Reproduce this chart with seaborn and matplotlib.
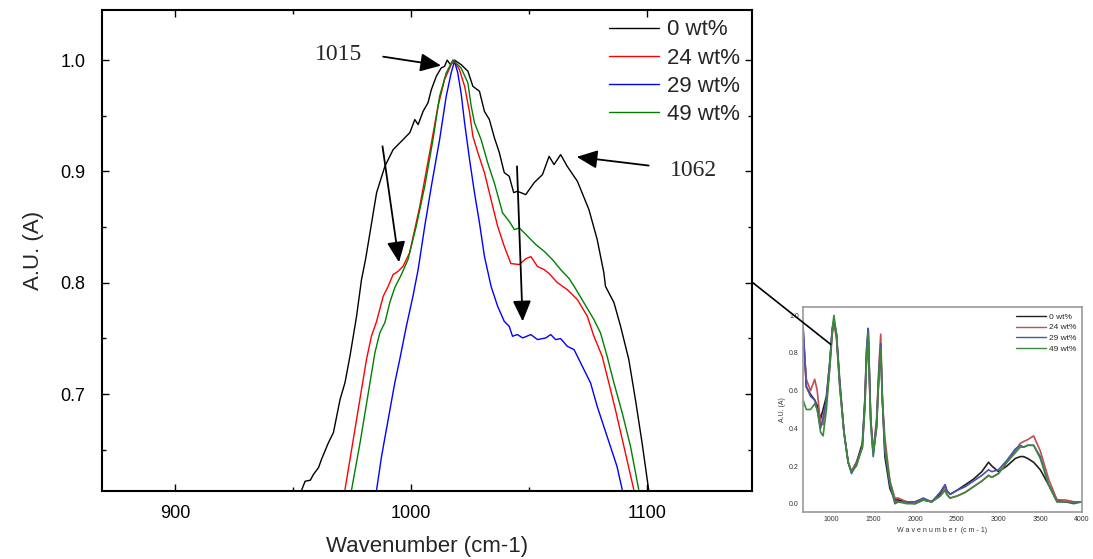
import numpy as np
import pandas as pd
import matplotlib
matplotlib.use("Agg")
import matplotlib.pyplot as plt
import seaborn as sns
from matplotlib.patches import ConnectionPatch

# ---------------- data (main zoom panel) ----------------
series_names = ["0 wt%", "24 wt%", "29 wt%", "49 wt%"]
series_colors = ["black", "red", "blue", "green"]

x_0 = [953.7, 955.1, 957.3, 958.6, 960.8, 962.0, 965.0, 967.1, 969.9, 972.0, 974.1, 976.9,
       979.0, 980.7, 982.6, 985.4, 988.9, 992.4, 996.6, 999.5, 1001.6, 1003.0, 1005.1,
       1007.2, 1008.6, 1010.7, 1012.8, 1014.2, 1015.3, 1016.7, 1018.4, 1021.2, 1024.1,
       1026.2, 1029.0, 1031.1, 1033.2, 1035.3, 1037.4, 1039.5, 1041.6, 1043.5, 1045.1,
       1048.6, 1052.2, 1055.7, 1058.5, 1060.6, 1063.4, 1066.2, 1070.5, 1075.4, 1078.9,
       1081.7, 1082.4, 1086.0, 1088.8, 1092.3, 1095.1, 1097.9, 1100.7]
y_0 = [0.6143, 0.6218, 0.6227, 0.6278, 0.6341, 0.6412, 0.6565, 0.6655, 0.6951, 0.7104, 0.7340,
       0.7699, 0.8029, 0.8209, 0.8451, 0.8810, 0.9046, 0.9196, 0.9286, 0.9349, 0.9466, 0.9421,
       0.9540, 0.9618, 0.9735, 0.9855, 0.9930, 0.9944, 1.0000, 0.9960, 1.0000, 0.9960, 0.9900,
       0.9765, 0.9720, 0.9540, 0.9466, 0.9304, 0.9170, 0.8990, 0.8957, 0.8810, 0.8822, 0.8792,
       0.8900, 0.8972, 0.9136, 0.9062, 0.9151, 0.9046, 0.8912, 0.8657, 0.8388, 0.8092, 0.7969,
       0.7822, 0.7610, 0.7310, 0.6951, 0.6565, 0.6143]

x_24 = [972.0, 974.1, 977.6, 981.1, 983.2, 985.4, 988.2, 990.3, 992.4, 994.5, 996.6, 998.0,
        999.4, 1003.7, 1007.9, 1011.4, 1014.2, 1017.0, 1018.1, 1020.5, 1022.7, 1024.8, 1026.2,
        1028.3, 1031.1, 1033.9, 1036.7, 1039.5, 1042.3, 1045.9, 1048.7, 1050.8, 1053.6,
        1056.4, 1058.5, 1062.0, 1066.2, 1070.5, 1074.7, 1077.5, 1081.0, 1083.8, 1086.6,
        1090.2, 1094.4]
y_24 = [0.6143, 0.6412, 0.6862, 0.7311, 0.7520, 0.7654, 0.7879, 0.7969, 0.8074, 0.8103, 0.8148,
        0.8209, 0.8270, 0.8687, 0.9170, 0.9585, 0.9825, 0.9960, 1.0000, 0.9915, 0.9765, 0.9529,
        0.9316, 0.9170, 0.8990, 0.8747, 0.8508, 0.8328, 0.8173, 0.8164, 0.8218, 0.8235, 0.8146,
        0.8119, 0.8083, 0.8002, 0.7939, 0.7849, 0.7700, 0.7520, 0.7340, 0.7104, 0.6862, 0.6532,
        0.6143]

x_29 = [985.4, 987.5, 990.3, 993.1, 995.2, 998.0, 1000.8, 1003.0, 1005.8, 1008.6, 1012.1,
        1014.9, 1017.0, 1018.4, 1019.8, 1021.2, 1022.7, 1024.8, 1026.9, 1029.0, 1031.1,
        1033.9, 1036.7, 1039.5, 1041.6, 1043.0, 1045.1, 1047.3, 1050.8, 1053.6, 1057.1,
        1059.2, 1061.3, 1063.4, 1066.2, 1069.1, 1073.3, 1076.1, 1078.9, 1081.7, 1084.5,
        1087.3, 1089.5]
y_29 = [0.6143, 0.6442, 0.6772, 0.7101, 0.7311, 0.7609, 0.7879, 0.8119, 0.8508, 0.8867, 0.9286,
        0.9675, 0.9885, 0.9990, 0.9885, 0.9705, 0.9436, 0.9106, 0.8807, 0.8538, 0.8238, 0.7969,
        0.7789, 0.7654, 0.7609, 0.7520, 0.7535, 0.7505, 0.7535, 0.7490, 0.7505, 0.7535, 0.7490,
        0.7499, 0.7430, 0.7400, 0.7220, 0.7100, 0.6890, 0.6710, 0.6530, 0.6350, 0.6143]

x_49 = [974.8, 978.4, 981.9, 984.7, 986.8, 988.9, 991.0, 993.1, 995.9, 998.7, 1002.2, 1005.8,
        1009.3, 1012.1, 1014.9, 1017.7, 1021.2, 1024.1, 1025.5, 1026.9, 1029.7, 1032.5,
        1035.3, 1038.8, 1041.6, 1043.8, 1045.9, 1049.4, 1052.9, 1056.4, 1059.9, 1063.4,
        1067.0, 1069.1, 1073.3, 1077.5, 1080.3, 1083.1, 1086.0, 1089.5, 1093.0, 1096.5]
y_49 = [0.6143, 0.6565, 0.7014, 0.7374, 0.7553, 0.7643, 0.7823, 0.7957, 0.8074, 0.8209, 0.8508,
        0.8867, 0.9286, 0.9675, 0.9885, 1.0000, 0.9930, 0.9795, 0.9585, 0.9436, 0.9286, 0.9077,
        0.8897, 0.8628, 0.8552, 0.8478, 0.8493, 0.8418, 0.8343, 0.8283, 0.8209, 0.8119, 0.8038,
        0.7969, 0.7820, 0.7670, 0.7550, 0.7340, 0.7100, 0.6832, 0.6532, 0.6143]

# ---------------- data (full-range inset) ----------------
ix = [660, 700, 750, 800, 830, 870, 900, 940, 980, 1010, 1030, 1060, 1100, 1150, 1200, 1240,
      1300, 1370, 1400, 1420, 1440, 1470, 1500, 1540, 1570, 1590, 1610, 1640, 1700, 1760,
      1800, 1900, 2000, 2100, 2200, 2300, 2360, 2380, 2420, 2500, 2600, 2700, 2800, 2880,
      2920, 3000, 3100, 3200, 3260, 3300, 3350, 3420, 3500, 3600, 3700, 3800, 3900, 4000]
iy_0 = [0.93, 0.62, 0.58, 0.55, 0.52, 0.45, 0.50, 0.57, 0.75, 0.92, 0.97, 0.90, 0.65, 0.38,
        0.22, 0.17, 0.22, 0.32, 0.55, 0.80, 0.93, 0.45, 0.27, 0.40, 0.70, 0.80, 0.55, 0.25,
        0.08, 0.02, 0.02, 0.01, 0.00, 0.02, 0.01, 0.05, 0.10, 0.07, 0.05, 0.07, 0.10, 0.13,
        0.17, 0.22, 0.20, 0.17, 0.20, 0.24, 0.25, 0.25, 0.24, 0.22, 0.18, 0.10, 0.02, 0.01,
        0.01, 0.01]
iy_24 = [0.90, 0.66, 0.60, 0.66, 0.60, 0.42, 0.42, 0.55, 0.72, 0.90, 0.95, 0.88, 0.62, 0.38,
         0.22, 0.17, 0.22, 0.30, 0.50, 0.75, 0.82, 0.45, 0.28, 0.45, 0.75, 0.90, 0.55, 0.35,
         0.12, 0.03, 0.03, 0.01, 0.01, 0.02, 0.01, 0.04, 0.08, 0.05, 0.03, 0.04, 0.06, 0.09,
         0.12, 0.15, 0.14, 0.16, 0.22, 0.28, 0.32, 0.33, 0.34, 0.36, 0.28, 0.13, 0.02, 0.02,
         0.01, 0.01]
iy_29 = [0.95, 0.62, 0.57, 0.55, 0.50, 0.40, 0.46, 0.55, 0.75, 0.93, 0.97, 0.90, 0.63, 0.38,
         0.22, 0.16, 0.21, 0.30, 0.55, 0.82, 0.93, 0.45, 0.25, 0.42, 0.72, 0.85, 0.55, 0.28,
         0.10, 0.00, 0.01, 0.01, 0.01, 0.03, 0.01, 0.06, 0.10, 0.07, 0.05, 0.07, 0.09, 0.12,
         0.15, 0.18, 0.17, 0.18, 0.23, 0.29, 0.31, 0.30, 0.31, 0.31, 0.25, 0.10, 0.01, 0.01,
         0.00, 0.01]
iy_49 = [0.55, 0.50, 0.50, 0.53, 0.50, 0.38, 0.36, 0.50, 0.72, 0.93, 1.00, 0.90, 0.62, 0.38,
         0.22, 0.17, 0.20, 0.30, 0.52, 0.78, 0.90, 0.42, 0.26, 0.42, 0.70, 0.82, 0.55, 0.30,
         0.12, 0.01, 0.01, 0.00, 0.00, 0.02, 0.01, 0.04, 0.07, 0.05, 0.03, 0.04, 0.06, 0.09,
         0.12, 0.15, 0.14, 0.16, 0.22, 0.27, 0.30, 0.30, 0.31, 0.31, 0.24, 0.10, 0.01, 0.01,
         0.01, 0.01]
inset_colors = ["#202020", "#c05050", "#5050b0", "#3a8a3a"]

x_ticks = [900, 1000, 1100]
y_ticks = [0.7, 0.8, 0.9, 1.0]
inset_xticks = [1000, 1500, 2000, 2500, 3000, 3500, 4000]
inset_yticks = [0.0, 0.2, 0.4, 0.6, 0.8, 1.0]

# ---------------- style ----------------
sns.set_theme(style="ticks")
plt.rcParams["font.family"] = ["Liberation Sans", "DejaVu Sans"]

fig = plt.figure(figsize=(10.93, 5.59), dpi=100)
ax = fig.add_axes([0.0933, 0.1216, 0.5947, 0.8605])

main_df = pd.concat([
    pd.DataFrame({"x": xs, "y": ys, "s": n})
    for xs, ys, n in zip([x_0, x_24, x_29, x_49], [y_0, y_24, y_29, y_49], series_names)
])
sns.lineplot(data=main_df, x="x", y="y", hue="s", palette=dict(zip(series_names, series_colors)),
             sort=False, estimator=None, linewidth=1.0, ax=ax, legend=False)

ax.set_xlim(869, 1144.5)
ax.set_ylim(0.613, 1.045)
ax.set_xticks(x_ticks)
ax.set_yticks(y_ticks)
ax.set_xticks([950, 1050], minor=True)
ax.set_yticks([0.65, 0.75, 0.85, 0.95], minor=True)
ax.set_yticklabels(["%.1f" % v for v in y_ticks])
ax.tick_params(which="both", direction="in", top=True, right=True, colors="black",
               labelsize=13, width=1.0)
ax.tick_params(which="major", length=5)
ax.tick_params(which="minor", length=3)
ax.tick_params(axis="x", pad=10)
ax.tick_params(axis="y", pad=12)
for sp in ax.spines.values():
    sp.set_linewidth(1.5)
    sp.set_color("black")
ax.set_xlabel("Wavenumber (cm-1)", fontsize=16, labelpad=10)
ax.set_ylabel("A.U. (A)", fontsize=16, labelpad=12)

handles = [plt.Line2D([], [], color=c, lw=1.0) for c in series_colors]
leg = ax.legend(handles, series_names, loc="upper left", bbox_to_anchor=(0.76, 1.008),
                frameon=False, fontsize=16, handlelength=2.25, handletextpad=0.35,
                labelspacing=0.32, borderaxespad=0.2)

serif = ["Liberation Serif", "DejaVu Serif"]
arrow_kw = dict(arrowstyle="-|>,head_length=0.9,head_width=0.4", mutation_scale=14,
                color="black", lw=1.3, shrinkA=0, shrinkB=0)
ax.annotate("", xy=(1012.7, 0.9951), xytext=(988.2, 1.0031), arrowprops=arrow_kw)
ax.text(969.2, 1.005, "1015", family=serif, fontsize=17, ha="center", va="center")
ax.annotate("", xy=(1070.2, 0.9131), xytext=(1100.7, 0.9053), arrowprops=arrow_kw)
ax.text(1119.7, 0.901, "1062", family=serif, fontsize=17, ha="center", va="center")
ax.annotate("", xy=(994.9, 0.8184), xytext=(987.9, 0.9226), arrowprops=arrow_kw)
ax.annotate("", xy=(1047.3, 0.7654), xytext=(1044.9, 0.9046), arrowprops=arrow_kw)

# ---------------- inset ----------------
ins = fig.add_axes([0.7347, 0.0841, 0.2553, 0.3667])
inset_df = pd.concat([
    pd.DataFrame({"x": ix, "y": ys, "s": n})
    for ys, n in zip([iy_0, iy_24, iy_29, iy_49], series_names)
])
sns.lineplot(data=inset_df, x="x", y="y", hue="s", palette=dict(zip(series_names, inset_colors)),
             sort=False, estimator=None, linewidth=1.2, ax=ins, legend=False)
ins.set_xlim(660, 4000)
ins.set_ylim(-0.044, 1.044)
ins.set_xticks(inset_xticks)
ins.set_yticks(inset_yticks)
ins.set_yticklabels(["%.1f" % v for v in inset_yticks])
ins.tick_params(which="both", length=0, labelsize=5, colors="#333333", pad=3)
for sp in ins.spines.values():
    sp.set_color("#9a9a9a")
    sp.set_linewidth(1.2)
ins.set_xlabel("W a v e n u m b e r  (c m - 1)", fontsize=5, color="#333333", labelpad=3)
ins.set_ylabel("A.U. (A)", fontsize=5, color="#333333", labelpad=2)
ih = [plt.Line2D([], [], color=c, lw=1.0) for c in inset_colors]
ins.legend(ih, series_names, loc="upper right", frameon=False, fontsize=6,
           handlelength=3.5, handletextpad=0.4, labelspacing=0.35, borderaxespad=0.3)

con = ConnectionPatch(xyA=(1.0, 0.4345), coordsA=ax.transAxes,
                      xyB=(990, 0.846), coordsB=ins.transData,
                      color="black", lw=1.2)
fig.add_artist(con)

fig.savefig("out.png", dpi=100)
